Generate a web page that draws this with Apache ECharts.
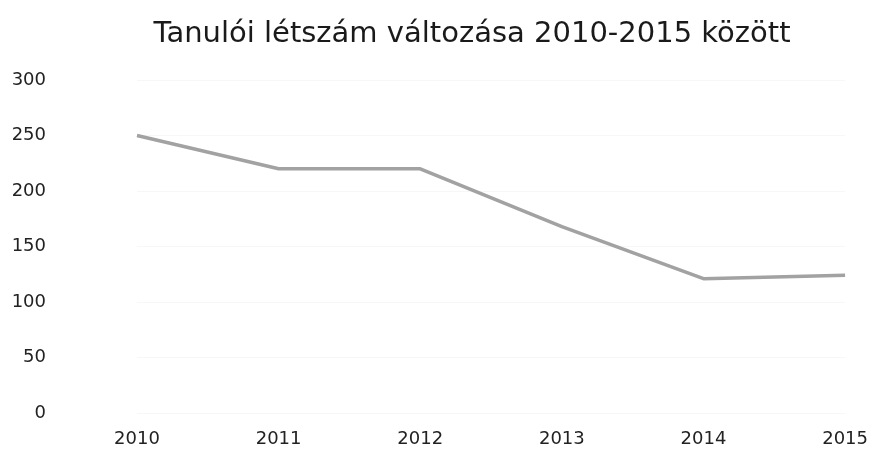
<!DOCTYPE html>
<html><head><meta charset="utf-8">
<script src="https://cdn.jsdelivr.net/npm/echarts@6/dist/echarts.min.js"></script>
<style>html,body{margin:0;padding:0;background:#fff}#c{width:871px;height:450px}</style>
</head><body><div id="c"></div>
<script>
const title = 'Tanulói létszám változása 2010-2015 között';
const categories = ['2010','2011','2012','2013','2014','2015'];
const values = [250, 220, 220, 168, 121, 124];
const yMin = 0, yMax = 300, yStep = 50;

const chart = echarts.init(document.getElementById('c'));
chart.setOption({
  animation: false,
  backgroundColor: '#fff',
  title: {
    text: title, left: 467, top: 15, textAlign: 'center',
    textStyle: { fontFamily: 'DejaVu Sans', fontWeight: 'normal', fontSize: 29, color: '#1a1a1a' }
  },
  grid: { left: 137, right: 24, top: 80, bottom: 37 },
  xAxis: {
    type: 'category', data: categories, boundaryGap: false,
    axisLine: { show: false }, axisTick: { show: false },
    axisLabel: { fontFamily: 'DejaVu Sans', fontSize: 18, color: '#222', margin: 17 }
  },
  yAxis: {
    type: 'value', min: yMin, max: yMax, interval: yStep,
    axisLine: { show: false }, axisTick: { show: false },
    splitLine: { lineStyle: { color: '#f7f7f7', width: 1 } },
    axisLabel: { fontFamily: 'DejaVu Sans', fontSize: 18, color: '#222', margin: 91 }
  },
  series: [{
    type: 'line', data: values, symbol: 'none',
    lineStyle: { color: '#a2a2a2', width: 3.5 }
  }]
});
</script></body></html>
